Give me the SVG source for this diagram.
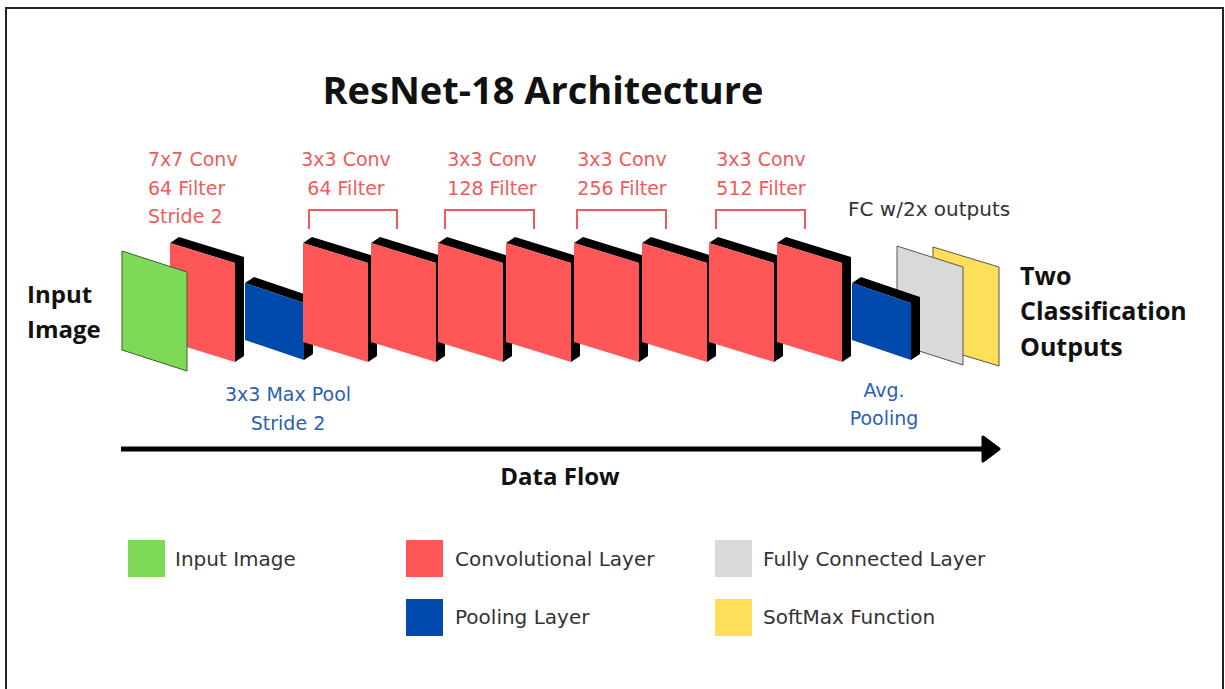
<svg xmlns="http://www.w3.org/2000/svg" width="1225" height="689" viewBox="0 0 1225 689">
<style>
.edge{fill:#000}
.conv{fill:#ff5757}
.pool{fill:#004aad}
.bold{font-family:"Open Sans","Liberation Sans",sans-serif;font-weight:700;fill:#111}
.lbl{font-family:"DejaVu Sans","Liberation Sans",sans-serif;font-size:19px}
.red{fill:#ef5b5b}
.blue{fill:#2b5fb4}
.leg{font-family:"DejaVu Sans","Liberation Sans",sans-serif;font-size:20px;fill:#333}
.brk{fill:none;stroke:#ef5b5b;stroke-width:2}
</style>
<defs>
<g id="convbox">
<polygon class="edge" points="0,243 9,237 74,257 74,356 65,362 65,263"/>
<polygon class="conv" points="0,243 65,263 65,362 0,342"/>
</g>
<g id="poolbox">
<polygon class="edge" points="0,283 9,277 68,297 68,354 59,360 59,303"/>
<polygon class="pool" points="0,283 59,303 59,360 0,340"/>
</g>
</defs>
<rect x="0" y="0" width="1225" height="689" fill="#fff"/>
<rect x="6" y="8" width="1217" height="700" fill="none" stroke="#222" stroke-width="2"/>
<text class="bold" x="543" y="104" font-size="38" text-anchor="middle">ResNet-18 Architecture</text>

<g id="labels-top">
<text class="lbl red" x="148" y="166">7x7 Conv</text>
<text class="lbl red" x="148" y="195">64 Filter</text>
<text class="lbl red" x="148" y="223">Stride 2</text>
<text class="lbl red" x="346" y="166" text-anchor="middle">3x3 Conv</text>
<text class="lbl red" x="346" y="195" text-anchor="middle">64 Filter</text>
<text class="lbl red" x="492" y="166" text-anchor="middle">3x3 Conv</text>
<text class="lbl red" x="492" y="195" text-anchor="middle">128 Filter</text>
<text class="lbl red" x="622" y="166" text-anchor="middle">3x3 Conv</text>
<text class="lbl red" x="622" y="195" text-anchor="middle">256 Filter</text>
<text class="lbl red" x="761" y="166" text-anchor="middle">3x3 Conv</text>
<text class="lbl red" x="761" y="195" text-anchor="middle">512 Filter</text>
<polyline class="brk" points="309,229 309,210 397,210 397,229"/>
<polyline class="brk" points="445,229 445,210 534,210 534,229"/>
<polyline class="brk" points="577,229 577,210 666,210 666,229"/>
<polyline class="brk" points="716,229 716,210 805,210 805,229"/>
<text class="leg" x="848" y="216" font-size="19">FC w/2x outputs</text>
</g>

<g id="softmax"><polygon points="933,247 999,267 999,366 933,346" fill="#ffde59" stroke="#555" stroke-width="1"/></g>
<g id="fc"><polygon points="897,246 963,267 963,365 897,344" fill="#d9d9d9" stroke="#555" stroke-width="1"/></g>
<g id="avgpool"><use href="#poolbox" x="852"/></g>
<g id="conv1"><use href="#convbox" x="170"/></g>
<g id="maxpool"><use href="#poolbox" x="245"/></g>
<g id="conv2"><use href="#convbox" x="303"/></g>
<g id="conv3"><use href="#convbox" x="371"/></g>
<g id="conv4"><use href="#convbox" x="438"/></g>
<g id="conv5"><use href="#convbox" x="506"/></g>
<g id="conv6"><use href="#convbox" x="574"/></g>
<g id="conv7"><use href="#convbox" x="642"/></g>
<g id="conv8"><use href="#convbox" x="709"/></g>
<g id="conv9"><use href="#convbox" x="777"/></g>
<g id="input"><polygon points="122,251 187,272 187,371 122,350" fill="#7ed957" stroke="#3d5a30" stroke-width="1"/></g>

<g id="input-label">
<text class="bold" x="27" y="303" font-size="24">Input</text>
<text class="bold" x="27" y="338" font-size="24">Image</text>
</g>
<g id="output-label">
<text class="bold" x="1020" y="285" font-size="25">Two</text>
<text class="bold" x="1020" y="320" font-size="25">Classification</text>
<text class="bold" x="1020" y="356" font-size="25">Outputs</text>
</g>
<g id="pool-labels">
<text class="lbl blue" x="288" y="401" text-anchor="middle">3x3 Max Pool</text>
<text class="lbl blue" x="288" y="430" text-anchor="middle">Stride 2</text>
<text class="lbl blue" x="884" y="397" text-anchor="middle">Avg.</text>
<text class="lbl blue" x="884" y="425" text-anchor="middle">Pooling</text>
</g>

<g id="connectors">
<line x1="121" y1="449" x2="986" y2="449" stroke="#000" stroke-width="5"/>
<polygon points="983,437 999,449 983,461" fill="#000" stroke="#000" stroke-width="3" stroke-linejoin="round"/>
</g>
<text class="bold" x="560" y="485" font-size="24" text-anchor="middle">Data Flow</text>

<g id="legend">
<rect x="128" y="540" width="37" height="37" fill="#7ed957"/>
<text class="leg" x="175" y="566">Input Image</text>
<rect x="406" y="540" width="37" height="37" fill="#ff5757"/>
<text class="leg" x="455" y="566">Convolutional Layer</text>
<rect x="715" y="540" width="37" height="37" fill="#d9d9d9"/>
<text class="leg" x="763" y="566">Fully Connected Layer</text>
<rect x="406" y="599" width="37" height="37" fill="#004aad"/>
<text class="leg" x="455" y="624">Pooling Layer</text>
<rect x="715" y="599" width="37" height="37" fill="#ffde59"/>
<text class="leg" x="763" y="624">SoftMax Function</text>
</g>
</svg>
